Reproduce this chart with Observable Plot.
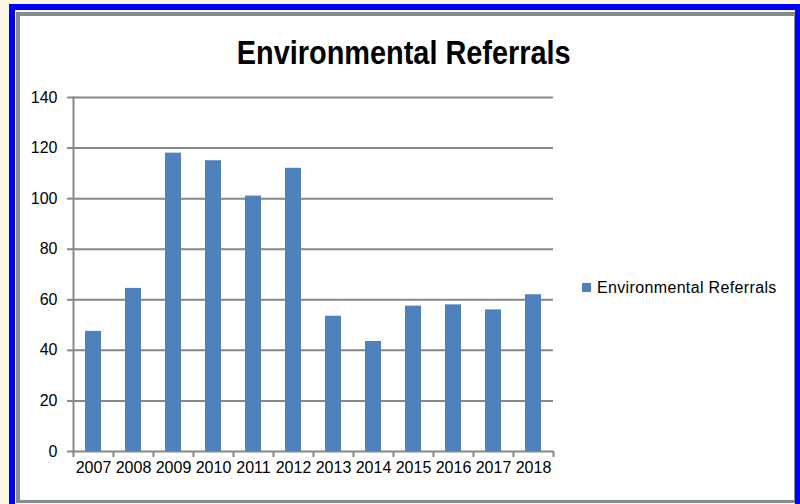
<!DOCTYPE html>
<html>
<head>
<meta charset="utf-8">
<script src="https://cdn.jsdelivr.net/npm/d3@7"></script>
<script src="https://cdn.jsdelivr.net/npm/@observablehq/plot@0.6"></script>
<style>
  html, body { margin: 0; padding: 0; width: 800px; height: 504px; overflow: hidden; background: #fdf7e6; position: relative; font-family: "Liberation Sans", Arial, sans-serif; }
  #blue { position: absolute; left: 9px; top: 4px; width: 792px; height: 540px; box-sizing: border-box; border: 6px solid #0000ff; background: #f4f6ff; }
  #frame { position: absolute; left: 16px; top: 12px; width: 779px; height: 491px; box-sizing: border-box; border-style: solid; border-color: #8a8a8a; border-width: 4px 1px 3px 4px; background: #fff; }
  #title { position: absolute; left: 0; top: 36px; width: 808px; text-align: center; font-weight: bold; font-size: 33px; line-height: 33px; color: #000; }
  #title span { display: inline-block; transform: scaleX(0.875); transform-origin: center; white-space: nowrap; }
  #chart { position: absolute; left: 0; top: 80px; }
  #legend { position: absolute; left: 582px; top: 280px; font-size: 16px; line-height: 16px; letter-spacing: 0.35px; color: #000; white-space: nowrap; }
  #legend .sw { display: inline-block; width: 9px; height: 9px; background: #4f81bd; margin-right: 6px; vertical-align: 1px; }
</style>
</head>
<body>
<div id="blue"></div>
<div id="frame"></div>
<div id="title"><span>Environmental Referrals</span></div>
<div id="chart"></div>
<div id="legend"><span class="sw"></span>Environmental Referrals</div>
<script>
const years = [2007, 2008, 2009, 2010, 2011, 2012, 2013, 2014, 2015, 2016, 2017, 2018];
const values = [47.5, 64.5, 118, 115, 101, 112, 53.5, 43.5, 57.5, 58, 56, 62];
const yTicks = [0, 20, 40, 60, 80, 100, 120, 140];
const seriesName = "Environmental Referrals";

const data = years.map((year, i) => ({year, value: values[i]}));
const boundaries = [...years.map(y => y - 0.5), years[years.length - 1] + 0.5];
const gray = "#878787";

const plot = Plot.plot({
  width: 800,
  height: 424,
  marginLeft: 73,
  marginRight: 247,
  marginTop: 17,
  marginBottom: 53,
  style: {background: "transparent", fontFamily: "'Liberation Sans', Arial, sans-serif", fontSize: "16px", color: "#000", overflow: "visible"},
  x: {domain: [boundaries[0], boundaries[boundaries.length - 1]], label: null},
  y: {domain: [0, 140], label: null},
  marks: [
    Plot.gridY(yTicks, {stroke: gray, strokeOpacity: 1, strokeWidth: 2}),
    Plot.rectY(data, {x1: d => d.year - 0.2, x2: d => d.year + 0.2, y: "value", fill: "#4f81bd"}),
    Plot.axisY(yTicks, {tickSize: 6, tickPadding: 10, stroke: gray, strokeWidth: 2, fill: "#000", fontSize: 16, label: null}),
    Plot.axisX(boundaries, {tickSize: 6, stroke: gray, strokeWidth: 2, tickFormat: () => "", label: null}),
    Plot.axisX(years, {tickSize: 0, tickPadding: 10, tickFormat: d => String(d), fill: "#000", fontSize: 16, label: null}),
    Plot.frame({anchor: "left", stroke: gray, strokeWidth: 2})
  ]
});
document.getElementById("chart").appendChild(plot);
</script>
</body>
</html>
